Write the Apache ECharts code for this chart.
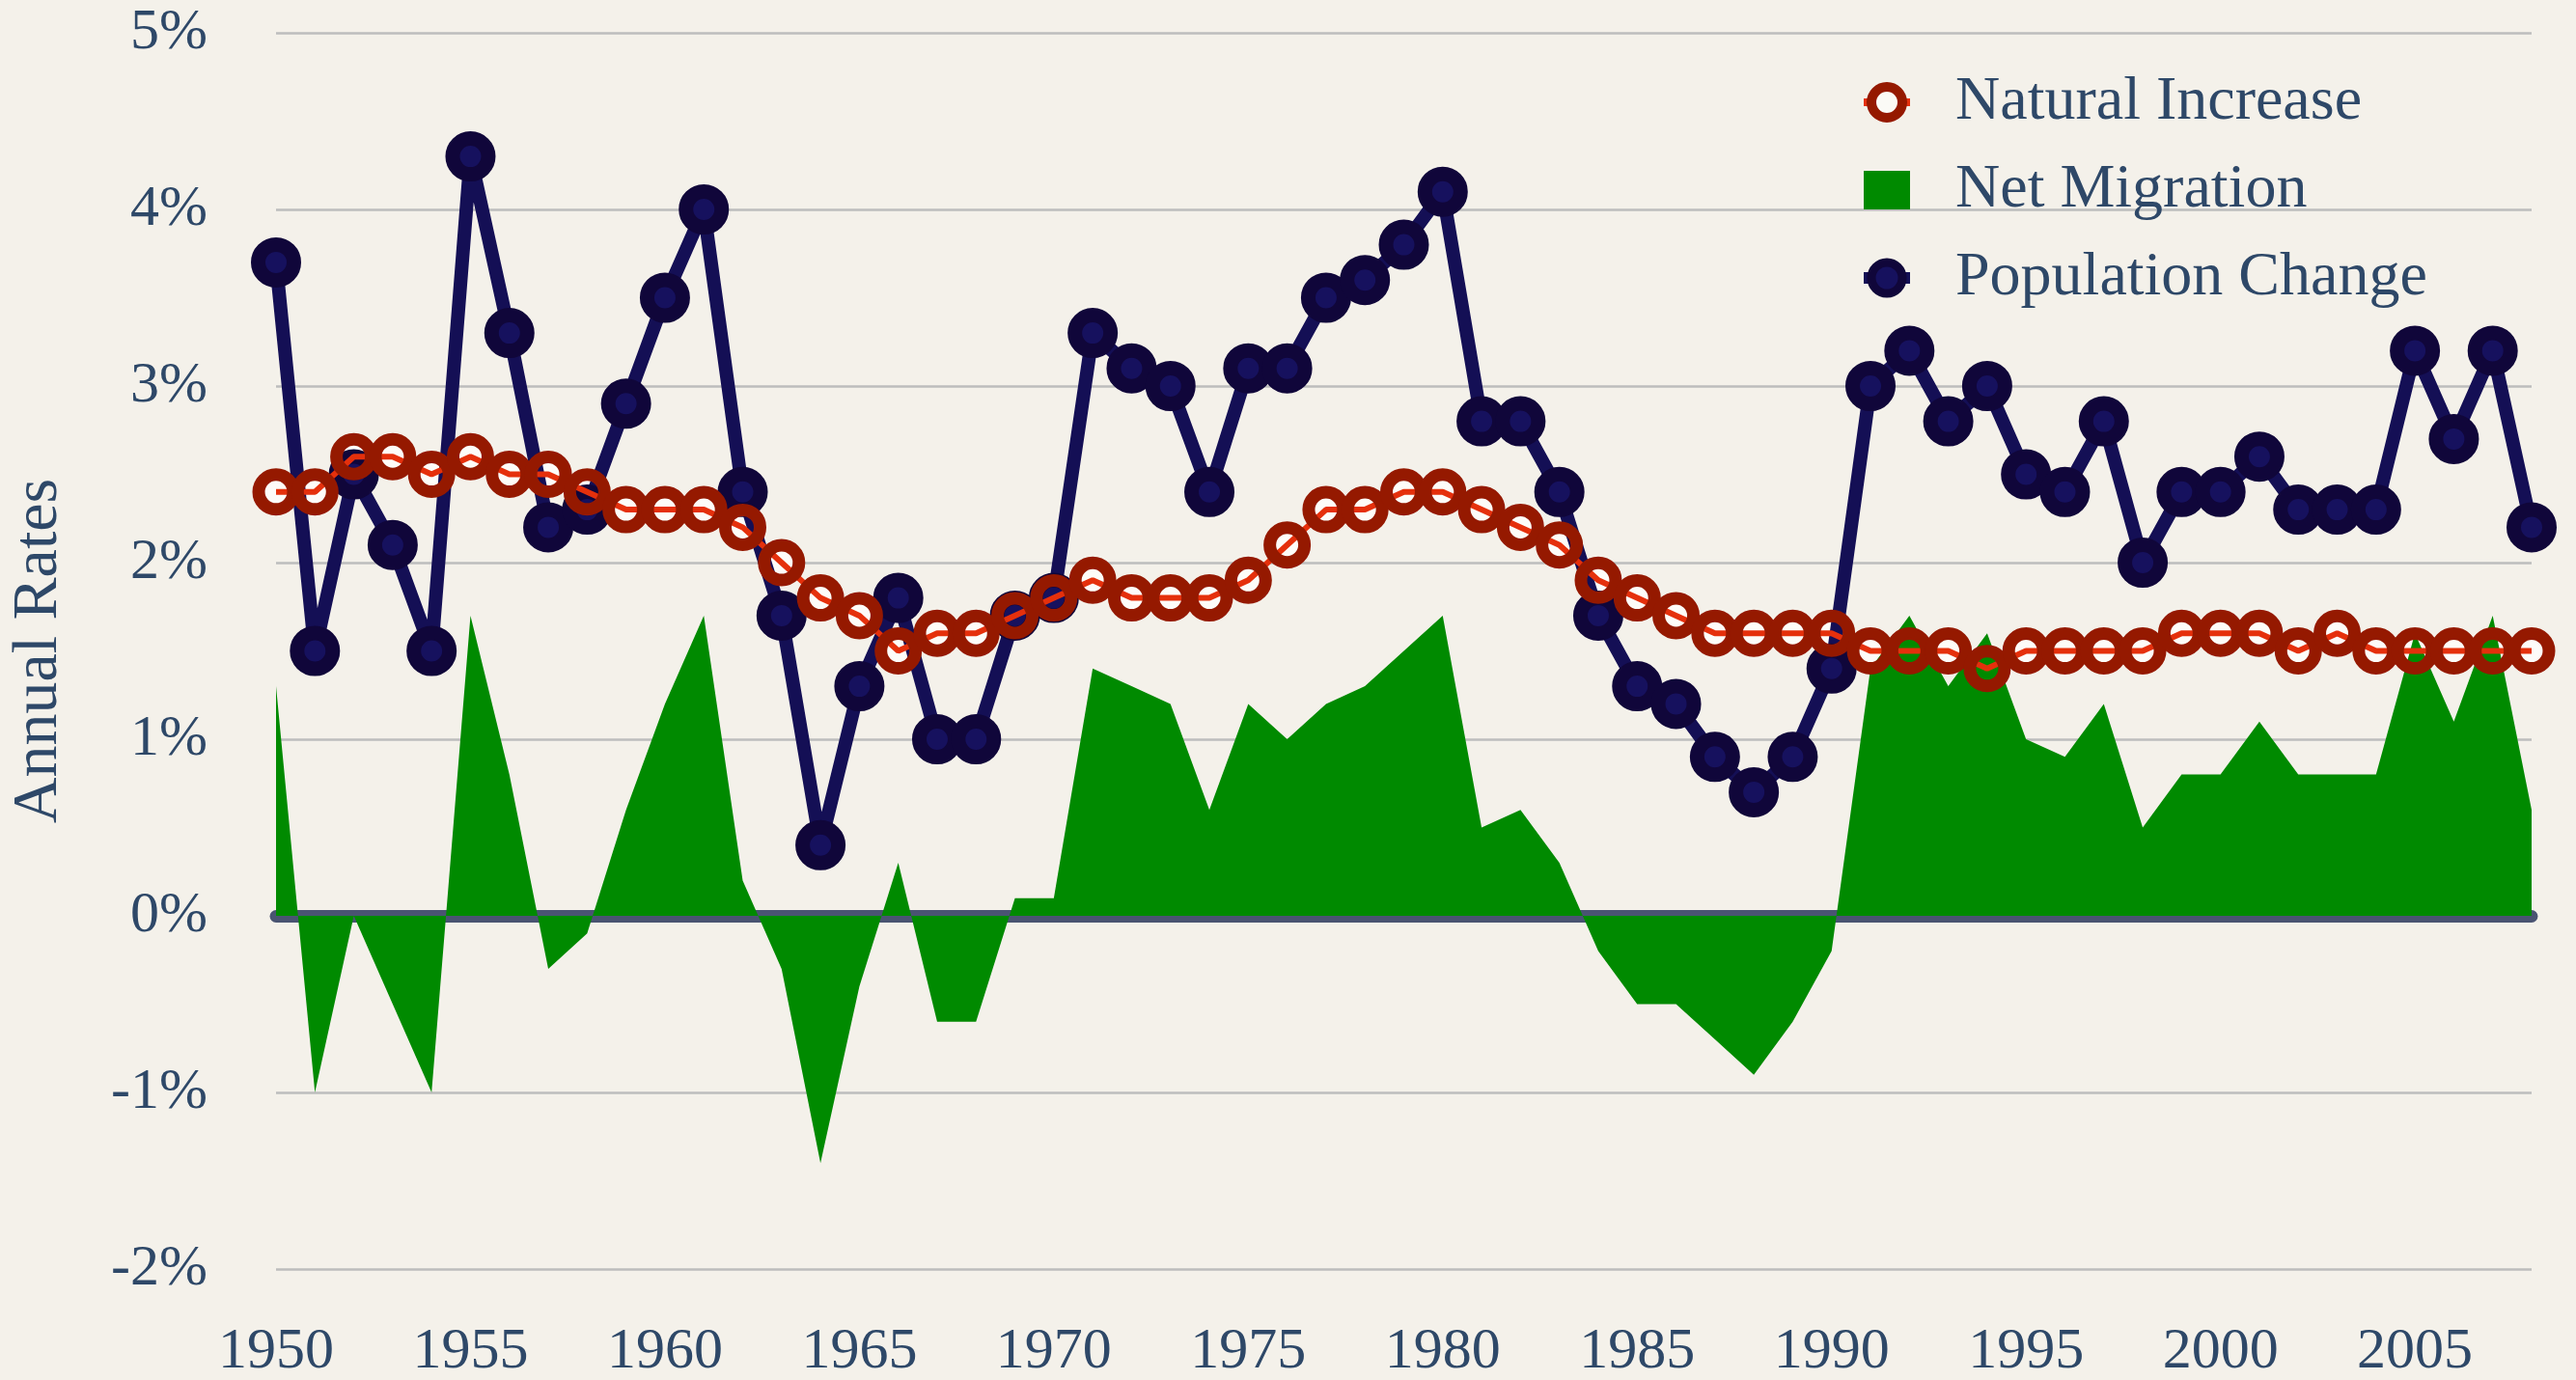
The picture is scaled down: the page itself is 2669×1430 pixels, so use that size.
<!DOCTYPE html>
<html>
<head>
<meta charset="utf-8">
<script src="https://cdn.jsdelivr.net/npm/echarts@6/dist/echarts.min.js"></script>
<style>
html,body{margin:0;padding:0;background:#f4f1ea;}
#c{width:2669px;height:1430px;}
</style>
</head>
<body>
<div id="c"></div>
<script>
const years = ['1950','1951','1952','1953','1954','1955','1956','1957','1958','1959',
  '1960','1961','1962','1963','1964','1965','1966','1967','1968','1969',
  '1970','1971','1972','1973','1974','1975','1976','1977','1978','1979',
  '1980','1981','1982','1983','1984','1985','1986','1987','1988','1989',
  '1990','1991','1992','1993','1994','1995','1996','1997','1998','1999',
  '2000','2001','2002','2003','2004','2005','2006','2007','2008'];

const naturalIncrease = [2.4,2.4,2.6,2.6,2.5,2.6,2.5,2.5,2.4,2.3,
  2.3,2.3,2.2,2.0,1.8,1.7,1.5,1.6,1.6,1.7,
  1.8,1.9,1.8,1.8,1.8,1.9,2.1,2.3,2.3,2.4,
  2.4,2.3,2.2,2.1,1.9,1.8,1.7,1.6,1.6,1.6,
  1.6,1.5,1.5,1.5,1.4,1.5,1.5,1.5,1.5,1.6,
  1.6,1.6,1.5,1.6,1.5,1.5,1.5,1.5,1.5];

const netMigration = [1.3,-1.0,0.0,-0.5,-1.0,1.7,0.8,-0.3,-0.1,0.6,
  1.2,1.7,0.2,-0.3,-1.4,-0.4,0.3,-0.6,-0.6,0.1,
  0.1,1.4,1.3,1.2,0.6,1.2,1.0,1.2,1.3,1.5,
  1.7,0.5,0.6,0.3,-0.2,-0.5,-0.5,-0.7,-0.9,-0.6,
  -0.2,1.4,1.7,1.3,1.6,1.0,0.9,1.2,0.5,0.8,
  0.8,1.1,0.8,0.8,0.8,1.6,1.1,1.7,0.6];

const populationChange = [3.7,1.5,2.5,2.1,1.5,4.3,3.3,2.2,2.3,2.9,
  3.5,4.0,2.4,1.7,0.4,1.3,1.8,1.0,1.0,1.7,
  1.8,3.3,3.1,3.0,2.4,3.1,3.1,3.5,3.6,3.8,
  4.1,2.8,2.8,2.4,1.7,1.3,1.2,0.9,0.7,0.9,
  1.4,3.0,3.2,2.8,3.0,2.5,2.4,2.8,2.0,2.4,
  2.4,2.6,2.3,2.3,2.3,3.2,2.7,3.2,2.2];

const yTicks = {min: -2, max: 5, step: 1};

const FONT = '"Liberation Serif", "DejaVu Serif", serif';
const TEXT = '#2e4868';
const GREEN = '#008a00';
const NAVY_LINE = '#140f55';
const NAVY_EDGE = '#10063a';
const NAVY_FILL = '#16115e';
const RED = '#951900';
const RED_LINE = '#e5300c';

const chart = echarts.init(document.getElementById('c'), null, {renderer: 'canvas'});
chart.setOption({
  backgroundColor: '#f4f1ea',
  animation: false,
  textStyle: {fontFamily: FONT},
  grid: {left: 286, right: 46, top: 34, bottom: 115, outerBoundsMode: 'none'},
  legend: {
    orient: 'vertical',
    left: 1920,
    top: 69,
    itemWidth: 48,
    itemHeight: 40,
    itemGap: 27,
    textStyle: {fontFamily: FONT, fontSize: 64, color: TEXT, padding: [0, 0, 0, 42]},
    data: [
      {name: 'Natural Increase', itemStyle: {color: '#fbfaf6', borderColor: RED, borderWidth: 10}, lineStyle: {color: RED_LINE, width: 8}},
      {name: 'Net Migration', icon: 'rect', itemStyle: {color: GREEN, borderWidth: 0}},
      {name: 'Population Change', itemStyle: {color: NAVY_FILL, borderColor: NAVY_EDGE, borderWidth: 9}, lineStyle: {color: NAVY_LINE, width: 12}}
    ]
  },
  xAxis: [
    {
      type: 'category', data: years, boundaryGap: false, position: 'bottom',
      axisLine: {show: true, onZero: true, lineStyle: {color: '#4a5472', width: 13}},
      axisTick: {show: false}, axisLabel: {show: false}, splitLine: {show: false}
    },
    {
      type: 'category', data: years, boundaryGap: false, position: 'bottom',
      axisLine: {show: false, onZero: false}, axisTick: {show: false}, splitLine: {show: false},
      axisLabel: {interval: 4, fontSize: 60, color: TEXT, fontFamily: FONT, margin: 56}
    }
  ],
  yAxis: {
    type: 'value', min: yTicks.min, max: yTicks.max, interval: yTicks.step,
    name: 'Annual Rates', nameLocation: 'middle', nameGap: 212, nameRotate: 90,
    nameTextStyle: {fontSize: 66, color: TEXT, fontFamily: FONT},
    axisLine: {show: false}, axisTick: {show: false},
    axisLabel: {formatter: '{value}%', fontSize: 60, color: TEXT, fontFamily: FONT, margin: 71},
    splitLine: {lineStyle: {color: '#bdbdbd', width: 2.5}}
  },
  series: [
    {
      name: 'Net Migration', type: 'line', data: netMigration, z: 2,
      symbol: 'none', showSymbol: false,
      lineStyle: {width: 0, color: GREEN},
      itemStyle: {color: GREEN},
      areaStyle: {color: GREEN, opacity: 1}
    },
    {
      name: 'ni-bg', type: 'line', data: naturalIncrease, z: 1, silent: true,
      symbol: 'circle', symbolSize: 23, showAllSymbol: true,
      itemStyle: {color: '#fdfcf9', borderWidth: 0},
      lineStyle: {width: 0, opacity: 0}
    },
    {
      name: 'Population Change', type: 'line', data: populationChange, z: 3,
      symbol: 'circle', symbolSize: 37, showAllSymbol: true,
      itemStyle: {color: NAVY_FILL, borderColor: NAVY_EDGE, borderWidth: 15},
      lineStyle: {color: NAVY_LINE, width: 14}
    },
    {
      name: 'Natural Increase', type: 'line', data: naturalIncrease, z: 4,
      symbol: 'circle', symbolSize: 36, showAllSymbol: true,
      itemStyle: {color: 'rgba(0,0,0,0)', borderColor: RED, borderWidth: 13},
      lineStyle: {color: RED_LINE, width: 6}
    }
  ]
});
</script>
</body>
</html>
